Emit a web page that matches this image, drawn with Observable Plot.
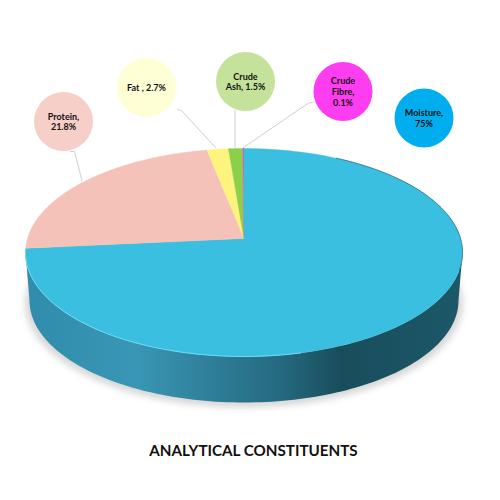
<!DOCTYPE html>
<html>
<head>
<meta charset="utf-8">
<script src="https://cdn.jsdelivr.net/npm/d3@7"></script>
<script src="https://cdn.jsdelivr.net/npm/@observablehq/plot@0.6"></script>
<style>html,body{margin:0;padding:0;background:#fff}</style>
</head>
<body>
<div id="chart"></div>
<script>
// ---- data ----
const names = ["Moisture", "Protein", "Fat", "Crude Ash", "Crude Fibre"];
const labels = ["Moisture,\n75%", "Protein,\n21.8%", "Fat , 2.7%", "Crude\nAsh, 1.5%", "Crude\nFibre,\n0.1%"];
// slice shares as they are drawn in the picture (percent of the round)
const drawnShares = [73.5, 23.4, 1.8, 1.2, 0.1];
const sliceColors = ["#3bbfe0", "#f5c2b9", "#fdf47e", "#8ccf4a", "#c062d2"];
const bubbleColors = ["#00aeef", "#f6cfc9", "#ffffd5", "#c5e29a", "#ff3df0"];
const title = "ANALYTICAL CONSTITUENTS";

// ---- layout ----
const bubbleX = [423.5, 63, 146, 245, 342.5];
const bubbleY = [117.5, 121, 87, 81, 91];
const bubbleR = 29.5;
const leaderX = [null, [70, 74, 81.5], [177, 181, 215], [234.5, 234.5], [312, 308, 243]];
const leaderY = [null, [151, 151, 180], [109, 110, 147], [110, 147], [102, 102.5, 147]];
const labelFont = "Lato, 'Noto Sans', sans-serif";
const wallStops = [[0, "#2f8cab"], [0.25, "#3997b5"], [0.42, "#2f7f9a"], [0.58, "#256a80"], [0.72, "#194d5c"], [1, "#1c5868"]];

// perspective of the tilted disc: apex, half-axes, foreshortening
const cx = 243.5, cy = 238, c = 216.5, b = 102.1, k = 0.1346;
const rimPoint = (deg, r = 1) => {
  const t = deg * Math.PI / 180, X = r * Math.sin(t), Y = r * Math.cos(t), w = 1 + k * Y;
  return {x: cx + c * X / w, y: cy - b * Y / w};
};
const sweep = (a0, a1, n = 120) => d3.range(n + 1).map(i => a0 + (a1 - a0) * i / n);

// slices from the shares, clockwise from 12 o'clock
const total = d3.sum(drawnShares);
let acc = 0;
const slices = [];
names.forEach((name, i) => {
  const a0 = acc, a1 = acc + drawnShares[i] / total * 360;
  acc = a1;
  slices.push({name, color: sliceColors[i], ...rimPoint(0, 0)});
  sweep(a0, a1).forEach(a => slices.push({name, color: sliceColors[i], ...rimPoint(a)}));
});

// disc ellipses
const ell = (ex, ey, rx, ry, deg) => {
  const t = deg * Math.PI / 180;
  return {x: ex + rx * Math.sin(t), y: ey - ry * Math.cos(t)};
};
const topE = a => ell(243.5, 252, 218.5, 104, a);
const botE = a => ell(243.5, 300, 214.5, 102, a);
const wall = [...sweep(270, 90).map(topE), ...sweep(90, 270).map(botE)];
const shadow = sweep(0, 360).map(a => ell(243.5, 303, 219, 104, a));
const rimLight = sweep(268, 165).map(topE);
const rimDark = sweep(25, 100).map(topE);

const bubbles = names.map((name, i) => ({name, x: bubbleX[i], y: bubbleY[i], color: bubbleColors[i], label: labels[i]}));
const leaders = names.flatMap((name, i) => leaderX[i] ? leaderX[i].map((x, j) => ({name, x, y: leaderY[i][j]})) : []);

const gradient = () => {
  const defs = d3.create("svg:defs");
  const g = defs.append("linearGradient").attr("id", "wallFill")
    .attr("gradientUnits", "userSpaceOnUse")
    .attr("x1", 25).attr("x2", 462).attr("y1", 0).attr("y2", 0);
  wallStops.forEach(([o, col]) => g.append("stop").attr("offset", o).attr("stop-color", col));
  return defs.node();
};

const chart = Plot.plot({
  width: 500, height: 500,
  margin: 0,
  style: {background: "#fff"},
  x: {domain: [0, 500], range: [0, 500], axis: null},
  y: {domain: [0, 500], range: [0, 500], axis: null},
  color: {type: "identity"},
  marks: [
    gradient,
    Plot.line(shadow, {x: "x", y: "y", fill: "#d8d8d8", stroke: "none", imageFilter: "blur(3px)"}),
    Plot.line(wall, {x: "x", y: "y", fill: "url(#wallFill)", stroke: "none"}),
    Plot.line(slices, {x: "x", y: "y", z: "name", fill: "color", stroke: "color", strokeWidth: 0.4}),
    Plot.line(rimLight, {x: "x", y: "y", stroke: "#6fdcf5", strokeWidth: 1}),
    Plot.line(rimDark, {x: "x", y: "y", stroke: "#2b6d82", strokeWidth: 0.8}),
    Plot.line(leaders, {x: "x", y: "y", z: "name", stroke: "#cfcfcf", strokeWidth: 1}),
    Plot.dot(bubbles, {x: "x", y: "y", r: bubbleR, fill: "color", stroke: "none"}),
    Plot.text(bubbles, {x: "x", y: "y", text: "label", fontFamily: labelFont, fontWeight: 700, fontSize: 9, lineHeight: 1.2, fill: "#111"}),
    Plot.text([title], {x: () => 253, y: () => 451, text: d => d, fontFamily: labelFont, fontWeight: 700, fontSize: 15.2, fill: "#111"})
  ]
});
document.getElementById("chart").appendChild(chart);
</script>
</body>
</html>
